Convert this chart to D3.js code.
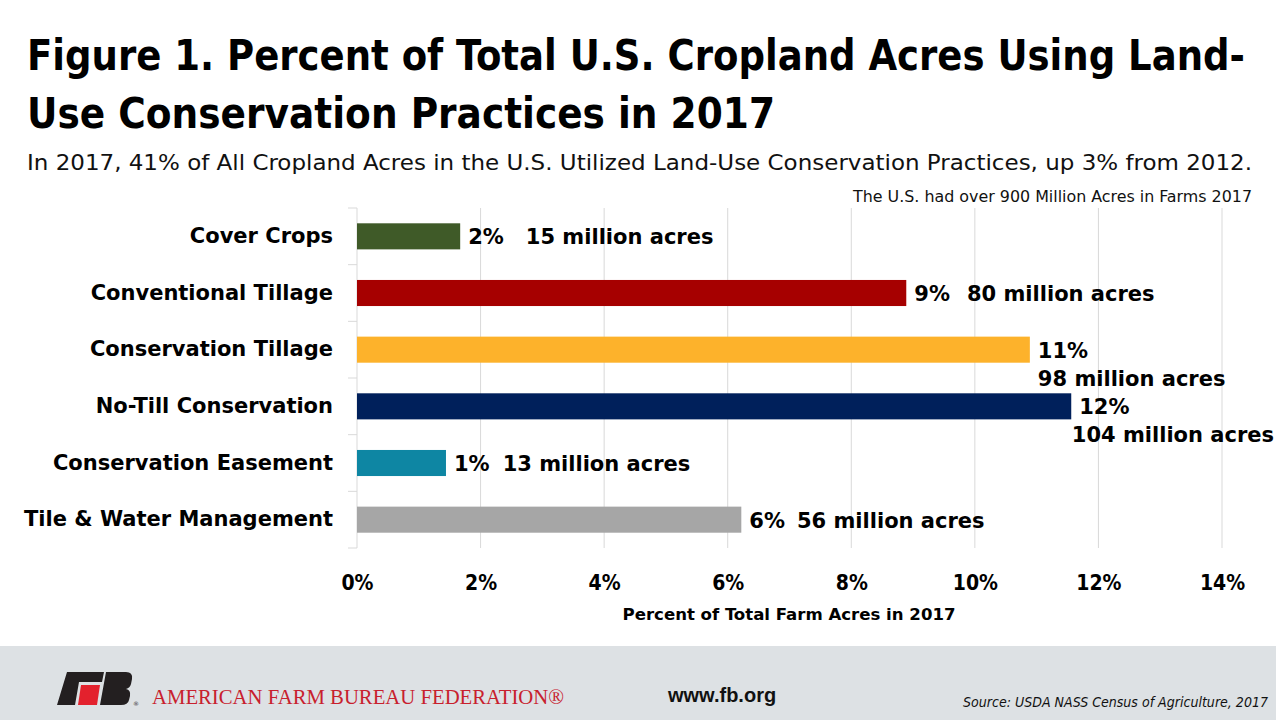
<!DOCTYPE html>
<html>
<head>
<meta charset="utf-8">
<script src="https://cdn.jsdelivr.net/npm/d3@7"></script>
<style>
  body { margin: 0; background: #fff; }
  svg { display: block; }
</style>
</head>
<body>
<div id="chart"></div>
<script>
// chart data
const categories = ["Cover Crops", "Conventional Tillage", "Conservation Tillage",
                    "No-Till Conservation", "Conservation Easement", "Tile & Water Management"];
const percents = [1.67, 8.89, 10.89, 11.56, 1.44, 6.22];
const pctLabels = ["2%", "9%", "11%", "12%", "1%", "6%"];
const acreLabels = ["15 million acres", "80 million acres", "98 million acres",
                    "104 million acres", "13 million acres", "56 million acres"];
const twoLine = [false, false, true, true, false, false];
const barColors = ["#3f5a28", "#a60000", "#fdb22b", "#00205b", "#0e86a3", "#a6a6a6"];
const xTicks = [0, 2, 4, 6, 8, 10, 12, 14];

const W = 1280, H = 720;
const condensed = "'DejaVu Sans Condensed', 'Liberation Sans Narrow', sans-serif";
const bold = "'DejaVu Sans', 'Liberation Sans', sans-serif";
const labelGap = [22, 17, 0, 0, 13, 12];

const svg = d3.select("#chart").append("svg")
  .attr("width", W).attr("height", H);

// titles
svg.append("text")
  .attr("x", 27).attr("y", 70)
  .attr("textLength", 1218).attr("lengthAdjust", "spacingAndGlyphs")
  .style("font-family", condensed).style("font-weight", "bold").style("font-size", "42px")
  .text("Figure 1. Percent of Total U.S. Cropland Acres Using Land-");
svg.append("text")
  .attr("x", 27).attr("y", 128)
  .attr("textLength", 748).attr("lengthAdjust", "spacingAndGlyphs")
  .style("font-family", condensed).style("font-weight", "bold").style("font-size", "42px")
  .text("Use Conservation Practices in 2017");
svg.append("text")
  .attr("x", 27).attr("y", 170)
  .attr("textLength", 1225).attr("lengthAdjust", "spacingAndGlyphs")
  .style("font-family", condensed).style("font-size", "22px").attr("fill", "#111")
  .text("In 2017, 41% of All Cropland Acres in the U.S. Utilized Land-Use Conservation Practices, up 3% from 2012.");
svg.append("text")
  .attr("x", 853).attr("y", 202)
  .attr("textLength", 399).attr("lengthAdjust", "spacingAndGlyphs")
  .style("font-family", condensed).style("font-size", "16px").attr("fill", "#111")
  .text("The U.S. had over 900 Million Acres in Farms 2017");

// scales
const x = d3.scaleLinear().domain([0, 14]).range([357, 1222]);
const y = d3.scaleBand().domain(categories).range([208, 548]).paddingInner(0.54).paddingOuter(0.27);

// gridlines
svg.append("g").selectAll("line")
  .data(xTicks.slice(1))
  .join("line")
  .attr("x1", d => x(d)).attr("x2", d => x(d))
  .attr("y1", 208).attr("y2", 548)
  .attr("stroke", "#d9d9d9").attr("stroke-width", 1);

// y axis line and separator ticks
svg.append("line")
  .attr("x1", x(0)).attr("x2", x(0)).attr("y1", 208).attr("y2", 548)
  .attr("stroke", "#d9d9d9");
const bounds = d3.range(categories.length + 1).map(i => 208 + i * (340 / categories.length));
svg.append("g").selectAll("line")
  .data(bounds)
  .join("line")
  .attr("x1", x(0) - 9).attr("x2", x(0))
  .attr("y1", d => d).attr("y2", d => d)
  .attr("stroke", "#d9d9d9");

// category labels
const yAxis = svg.append("g")
  .attr("transform", "translate(333,0)")
  .call(d3.axisLeft(y).tickSize(0).tickPadding(0));
yAxis.select(".domain").remove();
yAxis.selectAll("text")
  .style("font-family", bold).style("font-weight", "bold").style("font-size", "21px")
  .attr("fill", "#000");

// bars
svg.append("g").selectAll("rect")
  .data(categories)
  .join("rect")
  .attr("x", x(0))
  .attr("y", d => y(d))
  .attr("width", (d, i) => x(percents[i]) - x(0))
  .attr("height", y.bandwidth())
  .attr("fill", (d, i) => barColors[i]);

// value labels
const lab = svg.append("g")
  .style("font-family", bold).style("font-weight", "bold").style("font-size", "21px")
  .attr("fill", "#000");
categories.forEach((c, i) => {
  const cy = y(c) + y.bandwidth() / 2 + 8;
  const x0 = x(percents[i]) + 8;
  const t = lab.append("text").attr("x", x0).attr("y", cy).text(pctLabels[i]);
  if (twoLine[i]) {
    const t2 = lab.append("text").attr("y", cy + 28).text(acreLabels[i]);
    const w2 = t2.node().getComputedTextLength();
    t2.attr("x", Math.min(x0, W - 6 - w2));
  } else {
    const w = t.node().getComputedTextLength();
    lab.append("text").attr("x", x0 + w + labelGap[i]).attr("y", cy).text(acreLabels[i]);
  }
});

// x axis
const xAxis = svg.append("g")
  .attr("transform", "translate(0,570)")
  .call(d3.axisBottom(x).tickValues(xTicks).tickSize(0).tickPadding(0).tickFormat(d => d + "%"));
xAxis.select(".domain").remove();
xAxis.selectAll("text")
  .attr("dy", "0.95em")
  .style("font-family", condensed).style("font-weight", "bold").style("font-size", "21px")
  .attr("fill", "#000");

svg.append("text")
  .attr("x", 789).attr("y", 620).attr("text-anchor", "middle")
  .attr("textLength", 333).attr("lengthAdjust", "spacingAndGlyphs")
  .style("font-family", condensed).style("font-weight", "bold").style("font-size", "16px")
  .text("Percent of Total Farm Acres in 2017");

// footer
svg.append("rect")
  .attr("x", 0).attr("y", 646).attr("width", 1276).attr("height", 74)
  .attr("fill", "#dde1e4");

const logo = svg.append("g");
logo.append("path")
  .attr("d", "M67,672 L104,672 L102,682 L79,682 L75,705 L57,705 Z")
  .attr("fill", "#231f20");
logo.append("path")
  .attr("d", "M81,685 L100,685 L97,705 L78,705 Z")
  .attr("fill", "#e3212d");
logo.append("path")
  .attr("d", "M106,672 L126,672 Q133,672 132,679 L131,684 Q130,688 126,689 Q131,690 130,696 L129,700 Q128,705 121,705 L100,705 Z")
  .attr("fill", "#231f20");
logo.append("text")
  .attr("x", 133).attr("y", 706)
  .style("font-family", "'DejaVu Sans', sans-serif").style("font-size", "6px")
  .attr("fill", "#333").text("®");

svg.append("text")
  .attr("x", 152).attr("y", 704)
  .attr("textLength", 412).attr("lengthAdjust", "spacingAndGlyphs")
  .style("font-family", "'Liberation Serif', 'Times New Roman', serif").style("font-size", "22px")
  .attr("fill", "#c8202d")
  .text("AMERICAN FARM BUREAU FEDERATION®");

svg.append("text")
  .attr("x", 668).attr("y", 702)
  .style("font-family", "'Liberation Sans', Arial, sans-serif").style("font-weight", "bold").style("font-size", "20px")
  .attr("fill", "#111")
  .text("www.fb.org");

svg.append("text")
  .attr("x", 1268).attr("y", 707).attr("text-anchor", "end")
  .attr("textLength", 305).attr("lengthAdjust", "spacingAndGlyphs")
  .style("font-family", condensed).style("font-style", "italic").style("font-size", "14px")
  .attr("fill", "#111")
  .text("Source: USDA NASS Census of Agriculture, 2017");
</script>
</body>
</html>
